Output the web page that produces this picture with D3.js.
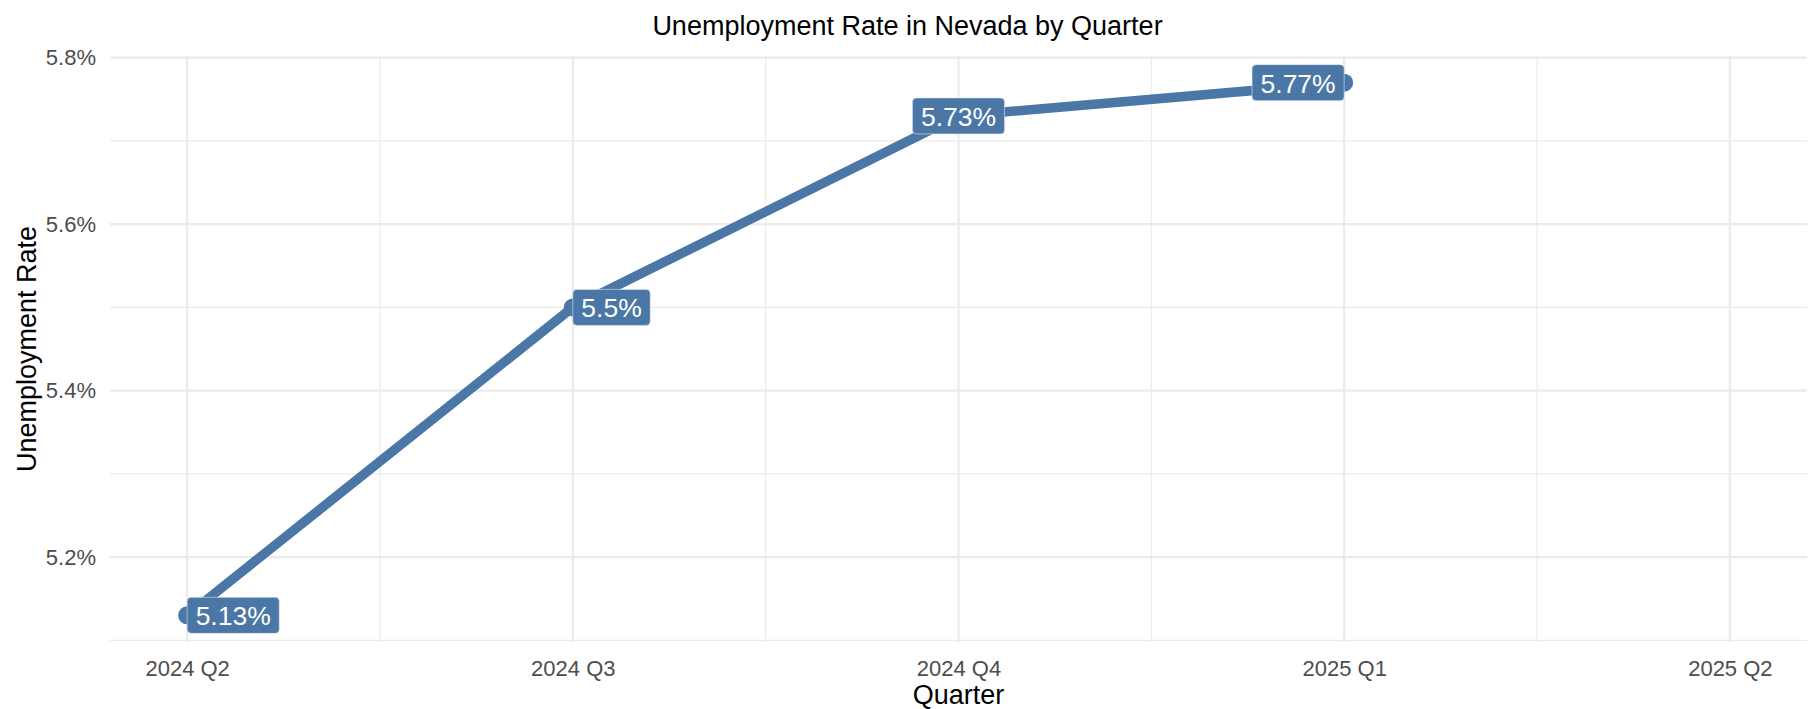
<!DOCTYPE html>
<html>
<head>
<meta charset="utf-8">
<script src="https://cdn.jsdelivr.net/npm/d3@7"></script>
<style>
  body { margin: 0; background: #fff; }
  text { font-family: "Liberation Sans", Arial, sans-serif; }
</style>
</head>
<body>
<div id="chart"></div>
<script>
// data
var quarters = ["2024 Q2", "2024 Q3", "2024 Q4", "2025 Q1"];
var rates = [5.13, 5.5, 5.73, 5.77];
var xTickLabels = ["2024 Q2", "2024 Q3", "2024 Q4", "2025 Q1", "2025 Q2"];
var yTicks = [5.2, 5.4, 5.6, 5.8];
var yMinorTicks = [5.1, 5.3, 5.5, 5.7];

// label alignment relative to the point
var labelAnchor = ["start", "start", "middle", "end"];

var width = 1815, height = 709;
var margin = { top: 56, right: 8, bottom: 67, left: 110 };
var lineColor = "#4A77A6";

var svg = d3.select("#chart")
    .append("svg")
    .attr("width", width)
    .attr("height", height);

var x = d3.scaleLinear()
    .domain([-0.2, xTickLabels.length - 1 + 0.2])
    .range([margin.left, width - margin.right]);

var y = d3.scaleLinear()
    .domain([5.098, 5.802])
    .range([height - margin.bottom, margin.top]);

// grid
var grid = svg.append("g");
grid.selectAll(".ymin")
    .data(yMinorTicks)
    .enter()
    .append("line")
    .attr("x1", x.range()[0]).attr("x2", x.range()[1])
    .attr("y1", function (d) { return y(d) }).attr("y2", function (d) { return y(d) })
    .attr("stroke", "#EBEBEB").attr("stroke-width", 1.1);
grid.selectAll(".xmin")
    .data(d3.range(0.5, xTickLabels.length - 1, 1))
    .enter()
    .append("line")
    .attr("y1", y.range()[0]).attr("y2", y.range()[1])
    .attr("x1", function (d) { return x(d) }).attr("x2", function (d) { return x(d) })
    .attr("stroke", "#EBEBEB").attr("stroke-width", 1.1);
grid.selectAll(".ymaj")
    .data(yTicks)
    .enter()
    .append("line")
    .attr("x1", x.range()[0]).attr("x2", x.range()[1])
    .attr("y1", function (d) { return y(d) }).attr("y2", function (d) { return y(d) })
    .attr("stroke", "#EBEBEB").attr("stroke-width", 2.2);
grid.selectAll(".xmaj")
    .data(xTickLabels)
    .enter()
    .append("line")
    .attr("y1", y.range()[0]).attr("y2", y.range()[1])
    .attr("x1", function (d, i) { return x(i) }).attr("x2", function (d, i) { return x(i) })
    .attr("stroke", "#EBEBEB").attr("stroke-width", 2.2);

// axes (text only, like theme_minimal)
var xAxis = svg.append("g")
    .attr("transform", "translate(0," + (height - margin.bottom) + ")")
    .call(d3.axisBottom(x)
        .tickValues(d3.range(xTickLabels.length))
        .tickFormat(function (d) { return xTickLabels[d] })
        .tickSize(0)
        .tickPadding(18));
xAxis.select(".domain").remove();
xAxis.selectAll("text")
    .style("font-size", "22px")
    .style("font-family", "Liberation Sans, Arial, sans-serif")
    .attr("fill", "#4D4D4D");

var yAxis = svg.append("g")
    .attr("transform", "translate(" + margin.left + ",0)")
    .call(d3.axisLeft(y)
        .tickValues(yTicks)
        .tickFormat(function (d) { return d3.format(".1f")(d) + "%" })
        .tickSize(0)
        .tickPadding(14));
yAxis.select(".domain").remove();
yAxis.selectAll("text")
    .style("font-size", "22px")
    .style("font-family", "Liberation Sans, Arial, sans-serif")
    .attr("fill", "#4D4D4D");

// titles
svg.append("text")
    .attr("x", width / 2)
    .attr("y", 35)
    .attr("text-anchor", "middle")
    .style("font-size", "27px")
    .text("Unemployment Rate in Nevada by Quarter");

svg.append("text")
    .attr("x", (x.range()[0] + x.range()[1]) / 2)
    .attr("y", 704)
    .attr("text-anchor", "middle")
    .style("font-size", "27px")
    .text("Quarter");

svg.append("text")
    .attr("transform", "translate(36," + (y.range()[0] + y.range()[1]) / 2 + ") rotate(-90)")
    .attr("text-anchor", "middle")
    .style("font-size", "27px")
    .text("Unemployment Rate");

// line + points
var line = d3.line()
    .x(function (d, i) { return x(i) })
    .y(function (d) { return y(d) });

svg.append("path")
    .datum(rates)
    .attr("d", line)
    .attr("fill", "none")
    .attr("stroke", lineColor)
    .attr("stroke-width", 9.5);

svg.selectAll(".pt")
    .data(rates)
    .enter()
    .append("circle")
    .attr("cx", function (d, i) { return x(i) })
    .attr("cy", function (d) { return y(d) })
    .attr("r", 9)
    .attr("fill", lineColor);

// labels
var pad = 8.5, boxH = 36;
var labels = svg.selectAll(".lab")
    .data(rates)
    .enter()
    .append("g");

labels.each(function (d, i) {
    var g = d3.select(this);
    var rect = g.append("rect");
    var t = g.append("text")
        .text(d + "%")
        .style("font-size", "26.5px")
        .attr("fill", "white")
        .attr("dominant-baseline", "central");
    var tw = t.node().getComputedTextLength();
    var w = tw + 2 * pad;
    var px = x(i), py = y(d);
    var left = labelAnchor[i] == "start" ? px : labelAnchor[i] == "end" ? px - w : px - w / 2;
    rect.attr("x", left)
        .attr("y", py - boxH / 2)
        .attr("width", w)
        .attr("height", boxH)
        .attr("rx", 4).attr("ry", 4)
        .attr("fill", lineColor)
        .attr("stroke", "#dfe8f1")
        .attr("stroke-width", 0.6);
    t.attr("x", left + pad).attr("y", py + 1);
});
</script>
</body>
</html>
